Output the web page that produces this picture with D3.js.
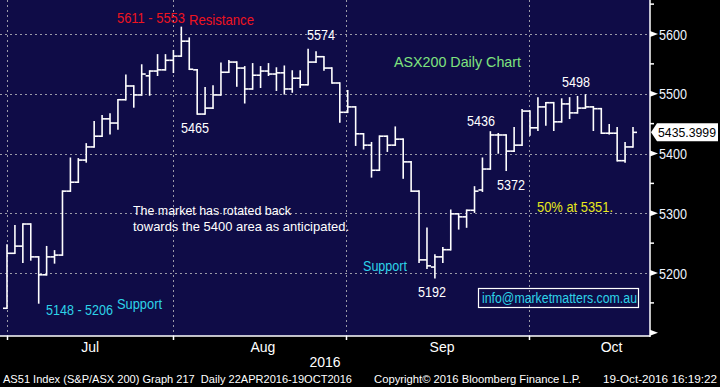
<!DOCTYPE html>
<html>
<head>
<meta charset="utf-8">
<script src="https://cdn.jsdelivr.net/npm/d3@7"></script>
<style>
  body { margin: 0; background: #000; }
  svg { display: block; font-family: "Liberation Sans", Arial, sans-serif; }
  text { white-space: pre; }
</style>
</head>
<body>
<svg width="720" height="387"></svg>
<script>
// daily OHLC, late Jun -> 19 Oct 2016
const opens  = [5141,5233,5245,5282,5227,5197,5227,5230,5337,5352,5389,5411,5429,5458,5451,5490,5513,5498,5530,5538,
                5540,5556,5563,5588,5540,5466,5476,5498,5536,5553,5543,5508,5531,5538,5533,5535,5508,5526,5515,5553,
                5562,5543,5518,5469,5478,5433,5414,5372,5429,5414,5424,5386,5337,5222,5210,5227,5239,5299,5294,5305,
                5339,5374,5431,5431,5404,5414,5471,5443,5478,5485,5453,5483,5468,5476,5478,5475,5434,5434,5388,5411];
const highs  = [5247,5279,5282,5282,5227,5244,5237,5337,5392,5391,5416,5453,5463,5466,5490,5531,5513,5548,5538,5565,
                5565,5572,5611,5593,5540,5510,5513,5551,5555,5553,5545,5550,5545,5550,5543,5546,5538,5538,5574,5570,
                5562,5543,5518,5505,5478,5433,5418,5429,5429,5444,5424,5386,5337,5275,5230,5242,5305,5299,5305,5344,
                5392,5436,5433,5431,5443,5473,5471,5493,5485,5485,5491,5493,5495,5498,5478,5475,5448,5443,5418,5443];
const lows   = [5141,5233,5218,5222,5150,5197,5217,5230,5337,5352,5386,5411,5429,5433,5441,5490,5478,5498,5498,5531,
                5540,5536,5563,5541,5466,5466,5476,5498,5536,5513,5485,5508,5511,5531,5506,5500,5503,5511,5515,5553,
                5540,5518,5453,5469,5414,5408,5361,5372,5404,5414,5359,5337,5218,5208,5192,5218,5239,5274,5277,5302,
                5337,5374,5401,5372,5404,5414,5431,5439,5448,5439,5453,5459,5468,5476,5439,5434,5433,5388,5386,5411];
const closes = [5233,5245,5282,5227,5197,5227,5230,5337,5352,5389,5411,5429,5458,5451,5490,5513,5498,5533,5538,5540,
                5556,5563,5588,5541,5466,5476,5498,5536,5553,5543,5508,5531,5538,5533,5535,5508,5526,5515,5553,5562,
                5543,5518,5469,5478,5433,5414,5372,5429,5414,5424,5386,5337,5222,5212,5227,5239,5299,5294,5305,5337,
                5374,5431,5431,5404,5414,5471,5443,5478,5485,5453,5483,5468,5476,5478,5475,5434,5434,5388,5411,5435.3999];

const monthTicks  = [0, 21, 42.8, 65.9];          // month boundaries, in bar index
const monthLabels = ["Jul", "Aug", "Sep", "Oct"];
const monthLabelPos = [10.5, 32.3, 54.9, 76.3];
const yTicks = [5200, 5300, 5400, 5500, 5600];
const yMinor = [5150, 5250, 5350, 5450, 5550, 5650];
const lastPrice = "5435.3999";

const W = 650, H = 336;
const svg = d3.select("svg");

const x = d3.scaleLinear().domain([0, 79]).range([7, 633]);
const y = d3.scaleLinear().domain([5094.6, 5656.9]).range([H, 0]);

const bars = opens.map((o, i) => ({ i, o, h: highs[i], l: lows[i], c: closes[i] }));

// plot background
svg.append("rect").attr("width", W).attr("height", H).attr("fill", "#0f0c47");

// grid
const grid = svg.append("g").attr("stroke", "#9a9aa8").attr("stroke-dasharray", "2,3").attr("stroke-width", 1);
grid.selectAll(".hg").data(yTicks).join("line")
  .attr("x1", 0).attr("x2", W)
  .attr("y1", d => Math.round(y(d)) + 0.5).attr("y2", d => Math.round(y(d)) + 0.5);
grid.selectAll(".vg").data(monthTicks).join("line")
  .attr("y1", 0).attr("y2", H)
  .attr("x1", d => Math.round(x(d)) + 0.5).attr("x2", d => Math.round(x(d)) + 0.5);

// OHLC bars
const bg = svg.append("g").attr("stroke", "#fff").attr("stroke-width", 1.6).attr("fill", "none");
bg.selectAll(".hl").data(bars).join("line")
  .attr("x1", d => x(d.i)).attr("x2", d => x(d.i))
  .attr("y1", d => y(d.h) - 0.8).attr("y2", d => y(d.l) + 0.8);
bg.selectAll(".op").data(bars).join("line")
  .attr("x1", d => x(d.i) - 4).attr("x2", d => x(d.i))
  .attr("y1", d => y(d.o)).attr("y2", d => y(d.o));
bg.selectAll(".cl").data(bars).join("line")
  .attr("x1", d => x(d.i)).attr("x2", d => x(d.i) + 4)
  .attr("y1", d => y(d.c)).attr("y2", d => y(d.c));

// axes
const ax = svg.append("g").attr("stroke", "#fff").attr("stroke-width", 1.5);
ax.append("line").attr("x1", W).attr("x2", W).attr("y1", 0).attr("y2", H + 1);
ax.append("line").attr("x1", 0).attr("x2", W).attr("y1", H).attr("y2", H);
ax.selectAll(".mt").data(monthTicks).join("line")
  .attr("x1", d => Math.round(x(d)) + 0.5).attr("x2", d => Math.round(x(d)) + 0.5)
  .attr("y1", H).attr("y2", H + 4);
ax.selectAll(".yn").data(yMinor).join("line")
  .attr("x1", W).attr("x2", W + 4)
  .attr("y1", d => y(d)).attr("y2", d => y(d));
svg.selectAll(".ya").data(yTicks.concat([5100])).join("path")
  .attr("fill", "#fff")
  .attr("d", d => `M${W},${y(d) - 3}L${W + 8},${y(d)}L${W},${y(d) + 3}Z`);

svg.selectAll(".yl").data(yTicks).join("text")
  .attr("x", 659).attr("y", d => y(d) + 5.5)
  .attr("fill", "#eef3ff").attr("font-size", 14)
  .attr("textLength", 28).attr("lengthAdjust", "spacingAndGlyphs")
  .text(d => d);

svg.selectAll(".ml").data(monthLabels).join("text")
  .attr("x", (d, i) => x(monthLabelPos[i])).attr("y", 352)
  .attr("text-anchor", "middle").attr("fill", "#fff").attr("font-size", 14)
  .text(d => d);

svg.append("text").attr("x", 325).attr("y", 367).attr("text-anchor", "middle")
  .attr("fill", "#fff").attr("font-size", 14).text("2016");

// last price flag
const ly = y(closes[closes.length - 1]);
svg.append("path").attr("fill", "#fff")
  .attr("d", `M${W + 1},${ly}L${W + 7},${ly - 9}L718,${ly - 9}L718,${ly + 9}L${W + 7},${ly + 9}Z`);
svg.append("text").attr("x", 658).attr("y", ly + 5).attr("fill", "#000").attr("font-size", 13)
  .attr("textLength", 58).attr("lengthAdjust", "spacingAndGlyphs").text(lastPrice);

// annotations
const red = "#ee1420", green = "#7fe47f", yellow = "#e8e81a", cyan = "#2dd3e8";
const notes = [
  { t: "5611 - 5553", x: 117, y: 23, w: 68, s: 15, c: red },
  { t: "Resistance", x: 189, y: 25, w: 65, s: 15, c: red },
  { t: "5574", x: 307, y: 40, w: 28, s: 14, c: "#fff" },
  { t: "5465", x: 181, y: 133, w: 28, s: 14, c: "#fff" },
  { t: "ASX200 Daily Chart", x: 394, y: 67, w: 127, s: 15, c: green },
  { t: "5498", x: 562, y: 87, w: 28, s: 14, c: "#fff" },
  { t: "5436", x: 467, y: 126, w: 28, s: 14, c: "#fff" },
  { t: "5372", x: 497, y: 190, w: 28, s: 14, c: "#fff" },
  { t: "50% at 5351.", x: 537, y: 212, w: 76, s: 14, c: yellow },
  { t: "The market has rotated back", x: 133, y: 215, w: 158, s: 13, c: "#fff" },
  { t: "towards the 5400 area as anticipated.", x: 133, y: 231, w: 216, s: 13, c: "#fff" },
  { t: "Support", x: 363, y: 271, w: 44, s: 14, c: cyan },
  { t: "5192", x: 418, y: 297, w: 28, s: 14, c: "#fff" },
  { t: "5148 - 5206", x: 46, y: 315, w: 67, s: 14, c: cyan },
  { t: "Support", x: 117, y: 309, w: 45, s: 14, c: cyan }
];
svg.selectAll(".note").data(notes).join("text")
  .attr("x", d => d.x).attr("y", d => d.y)
  .attr("fill", d => d.c).attr("font-size", d => d.s)
  .attr("textLength", d => d.w).attr("lengthAdjust", "spacingAndGlyphs")
  .text(d => d.t);

// email box
svg.append("rect").attr("x", 478.5).attr("y", 288.5).attr("width", 160).attr("height", 19)
  .attr("fill", "none").attr("stroke", "#fff").attr("stroke-width", 1.2);
svg.append("text").attr("x", 482).attr("y", 302.5).attr("fill", cyan).attr("font-size", 14)
  .attr("textLength", 155).attr("lengthAdjust", "spacingAndGlyphs").text("info@marketmatters.com.au");

// footer
const footer = [
  { t: "AS51 Index (S&P/ASX 200) Graph 217  Daily 22APR2016-19OCT2016", x: 3, w: 349 },
  { t: "Copyright\u00a9 2016 Bloomberg Finance L.P.", x: 374, w: 207 },
  { t: "19-Oct-2016 16:19:22", x: 603, w: 114 }
];
svg.selectAll(".ft").data(footer).join("text")
  .attr("x", d => d.x).attr("y", 382.5).attr("fill", "#fff").attr("font-size", 11.5)
  .attr("textLength", d => d.w).attr("lengthAdjust", "spacingAndGlyphs")
  .text(d => d.t);
</script>
</body>
</html>
